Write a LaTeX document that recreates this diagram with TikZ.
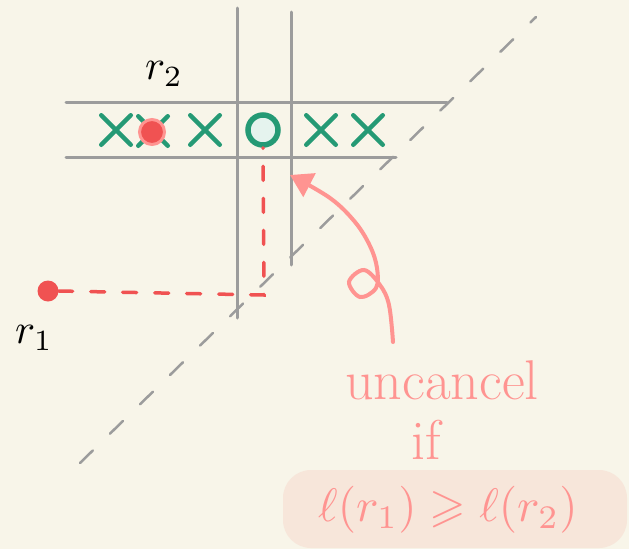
\documentclass[tikz,border=0pt]{standalone}
\usepackage{amssymb}
\usetikzlibrary{shapes.misc,arrows.meta}
\definecolor{bg}{HTML}{F8F5E9}
\definecolor{grid}{HTML}{9C9C9C}
\definecolor{grn}{HTML}{259A75}
\definecolor{redd}{HTML}{F05252}
\definecolor{pink}{HTML}{FF9491}
\definecolor{boxfill}{HTML}{F7E6DA}
\tikzset{
  gridline/.style={grid, line width=3pt, line cap=round},
  xmark/.style={cross out, draw=grn, line width=4.5pt, line cap=round, minimum size=25pt, inner sep=0pt},
  reddot/.style={circle, fill=redd, inner sep=0pt, minimum size=#1},
  lbl/.style={scale=4.2, inner sep=0pt},
  pinktext/.style={text=pink, font=\fontsize{56}{60}\selectfont},
}
\begin{document}
\begin{tikzpicture}[x=1pt,y=-1pt]
\fill[bg] (0,0) rectangle (629,549);
\useasboundingbox (0,0) rectangle (629,549);
% diagonal dashed line
\coordinate (d1) at (80,463);
\coordinate (d2) at (536,17);
\draw[grid, line width=2.5pt, line cap=round, dash pattern=on 18pt off 24pt] (d1) -- (d2);
% grid lines
\coordinate (h1a) at (66,102); \coordinate (h1b) at (447,102);
\coordinate (h2a) at (66,157); \coordinate (h2b) at (396,157);
\coordinate (v1a) at (237,8);  \coordinate (v1b) at (237,318);
\coordinate (v2a) at (291,12); \coordinate (v2b) at (291,265);
\draw[gridline] (h1a) -- (h1b);
\draw[gridline] (h2a) -- (h2b);
\draw[gridline] (v1a) -- (v1b);
\draw[gridline] (v2a) -- (v2b);
% x marks
\node[xmark] (x1) at (116,130) {};
\node[xmark] (x2) at (153,131) {};
\node[xmark] (x3) at (205,130) {};
\node[xmark] (x4) at (321,130) {};
\node[xmark] (x5) at (368,130) {};
% red dot r2
\node[reddot=25pt, draw=pink, line width=3pt] (p2) at (152,132) {};
% circle
\node[circle, draw=grn, fill=grn!12!white, line width=5.5pt, minimum size=30pt, inner sep=0pt] (o) at (263,130) {};
% r1 dot
\node[reddot=21pt] (p1) at (48,291) {};
% labels
\node[lbl] (r2) at (164,74) {$r_{2}$};
\node[lbl] (r1) at (34,338) {$r_{1}$};
% red dashed connector
\coordinate (corner) at (264,295);
\draw[redd, line width=3.5pt, line cap=round, dash pattern=on 14pt off 18pt] (p1.east) -- (corner) -- (o.south);
% text
\fill[boxfill, rounded corners=28pt] (283,470) rectangle (627,548);
\node[pinktext] (t1) at (442,380) {uncancel};
\node[pinktext] (t2) at (426,440) {if};
\node[text=pink, scale=4.7] (t3) at (448,510) {$\ell(r_{1})\geqslant\ell(r_{2})$};
% pink arrow
\coordinate (tail) at (393,342);
\coordinate (head) at (290,175);
\draw[pink, line width=4pt, line cap=round, -{Triangle[width=26pt,length=22pt]}]
  plot[smooth, tension=0.6] coordinates {(tail) (389,305) (380,285) (364,270) (349,282) (360,297) (376,288) (377,268) (370,246) (355,222) (330,198) (head)};
\end{tikzpicture}
\end{document}
